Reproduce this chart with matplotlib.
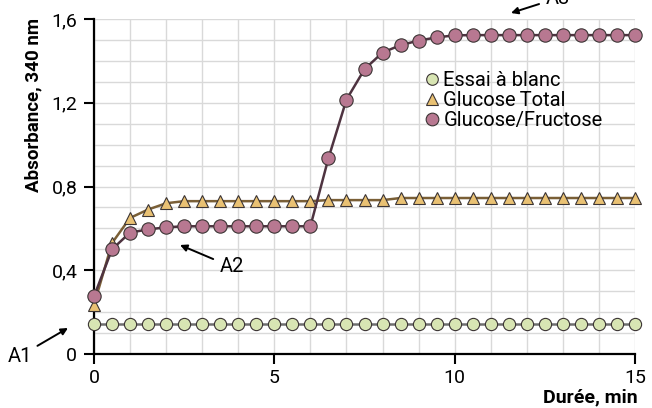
"""Absorbance at 340 nm vs time: blank, total glucose, glucose/fructose."""

import numpy as np

import matplotlib
matplotlib.use("Agg")
import matplotlib.pyplot as plt
from matplotlib.lines import Line2D

plt.rcParams["font.family"] = ["Roboto", "DejaVu Sans"]

# time points, min (every 0.5 min)
time_min = [0.0, 0.5, 1.0, 1.5, 2.0, 2.5, 3.0, 3.5, 4.0, 4.5, 5.0, 5.5, 6.0, 6.5, 7.0, 7.5,
            8.0, 8.5, 9.0, 9.5, 10.0, 10.5, 11.0, 11.5, 12.0, 12.5, 13.0, 13.5, 14.0, 14.5, 15.0]

blank = [0.145] * 31

glucose_total = [0.235, 0.53, 0.65, 0.69, 0.72, 0.73, 0.73, 0.73, 0.73, 0.73, 0.73, 0.73, 0.73,
                 0.735, 0.735, 0.735, 0.735, 0.745, 0.745, 0.745, 0.745, 0.745, 0.745, 0.745,
                 0.745, 0.745, 0.745, 0.745, 0.745, 0.745, 0.745]

glucose_fructose = [0.275, 0.50, 0.58, 0.595, 0.605, 0.61, 0.61, 0.61, 0.61, 0.61, 0.61, 0.61, 0.61,
                    0.935, 1.215, 1.36, 1.44, 1.475, 1.497, 1.512, 1.522, 1.523, 1.523, 1.523,
                    1.523, 1.523, 1.523, 1.523, 1.523, 1.523, 1.523]

series_labels = ["Essai à blanc", "Glucose\u2009Total", "Glucose/Fructose"]
y_ticks = [0.0, 0.4, 0.8, 1.2, 1.6]
y_tick_labels = ["0", "0,4", "0,8", "1,2", "1,6"]
x_ticks = [0, 5, 10, 15]

fig = plt.figure(figsize=(6.52, 4.08), dpi=100)
ax = fig.add_axes([94 / 652, 1 - 354 / 408, 541 / 652, 335 / 408])

edge = "#3b3434"
styles = [
    dict(color="#6e6e6e", marker="o", mfc="#d8e5b3", ms=8.8),
    dict(color="#7a5f36", marker="^", mfc="#e9c173", ms=8.6),
    dict(color="#4e3340", marker="o", mfc="#b87891", ms=9.6),
]
for ys, st in zip([blank, glucose_total, glucose_fructose], styles):
    ax.plot(time_min, ys, color=st["color"], linewidth=1.8, marker=st["marker"],
            markersize=st["ms"], markerfacecolor=st["mfc"], markeredgecolor=edge,
            markeredgewidth=0.8, clip_on=False, zorder=3)

ax.set_xlim(0, 15)
ax.set_ylim(0, 1.6)
ax.set_xticks(x_ticks)
ax.set_yticks(y_ticks)
ax.set_yticklabels(y_tick_labels)
ax.set_xticks(np.arange(0, 15.1, 1), minor=True)
ax.set_yticks(np.arange(0, 1.61, 0.1), minor=True)
ax.grid(True, which="both", color="#d9d9d9", linewidth=1.0, zorder=0)
ax.set_axisbelow(True)
ax.tick_params(which="minor", length=0)
ax.tick_params(which="major", length=7, width=1.5, direction="out", labelsize=14,
               colors="black")
ax.tick_params(axis="y", pad=5)
ax.tick_params(axis="x", pad=3.5)
for side in ("top", "right"):
    ax.spines[side].set_visible(False)
for side in ("left", "bottom"):
    ax.spines[side].set_linewidth(1.6)

ax.set_ylabel("Absorbance, 340 nm", fontsize=13.5, fontweight="bold")
ax.yaxis.set_label_coords(-0.096, 0.743)
ax.set_xlabel("Durée, min", fontsize=14, fontweight="bold")
ax.xaxis.set_label_coords(1.004, -0.104)
ax.xaxis.label.set_horizontalalignment("right")

handles = [Line2D([], [], linestyle="none", marker=st["marker"], markersize=st["ms"] * 0.95,
                  markerfacecolor=st["mfc"], markeredgecolor=edge, markeredgewidth=0.8)
           for st in styles]
ax.legend(handles, series_labels, loc="upper left", bbox_to_anchor=(0.614, 0.845),
          frameon=False, fontsize=14.5, handlelength=0.6, handletextpad=0.25,
          labelspacing=0.05, borderaxespad=0, borderpad=0)

arrow = dict(arrowstyle="-|>", color="black", lw=1.4, mutation_scale=10)
ax.annotate("A1", xy=(68, 80), xycoords="figure pixels", xytext=(20, 52),
            textcoords="figure pixels", fontsize=14.5, ha="center", va="center",
            arrowprops=dict(arrow, shrinkA=2, shrinkB=0), annotation_clip=False)
ax.annotate("A2", xy=(180, 163), xycoords="figure pixels", xytext=(232, 141),
            textcoords="figure pixels", fontsize=14.5, ha="center", va="center",
            arrowprops=dict(arrow, shrinkA=3, shrinkB=0), annotation_clip=False)
ax.annotate("A3", xy=(511, 395), xycoords="figure pixels", xytext=(558, 410),
            textcoords="figure pixels", fontsize=14.5, ha="center", va="center",
            arrowprops=dict(arrow, shrinkA=3, shrinkB=0), annotation_clip=False)

fig.savefig("out.png", dpi=100)
